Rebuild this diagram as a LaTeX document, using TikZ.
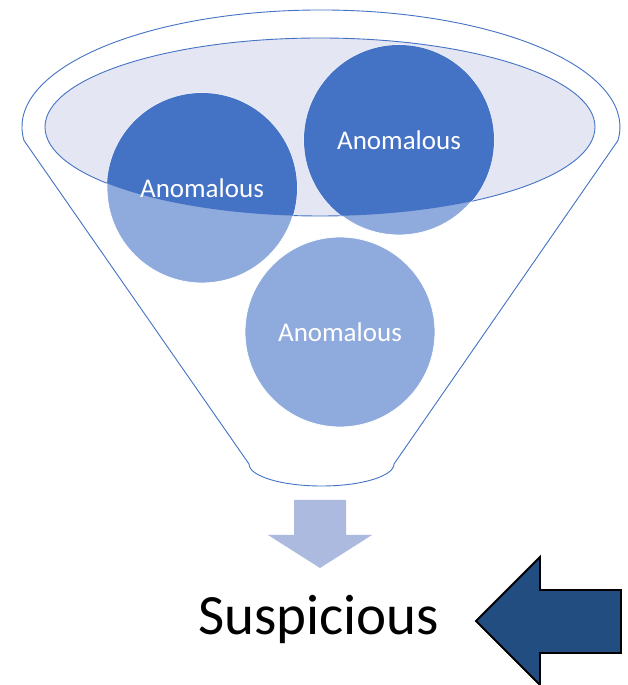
\documentclass[tikz,border=0pt]{standalone}
\usepackage{fontspec}
\setmainfont{Carlito}
\definecolor{dblue}{HTML}{4472C4}
\definecolor{lblue}{HTML}{8FAADC}
\definecolor{lav}{HTML}{E4E7F3}
\definecolor{arrowlight}{HTML}{ADBAE0}
\definecolor{arrowdark}{HTML}{224D80}
\begin{document}
\begin{tikzpicture}[x=1pt,y=1pt,
  funnelline/.style={draw=dblue,line width=0.9pt},
  balltext/.style={text=white,font=\fontsize{27}{31}\selectfont},
  ball/.style={circle,minimum size=190pt,inner sep=0pt,balltext},
]
\useasboundingbox (0,0) rectangle (627,685);
\clip (0,0) rectangle (627,685);
% funnel outline
\draw[funnelline,fill=white] (24,544.5) arc[start angle=186.64,end angle=-6.64,x radius=299,y radius=117]
  -- (394,221) arc[start angle=0,end angle=-180,x radius=72.5,y radius=22] -- cycle;
% inner ellipse
\path[funnelline,fill=lav] (320,558) ellipse[x radius=275,y radius=89];
% circles (light)
\node[ball,fill=lblue,draw=white,line width=0.8pt] (c1) at (202,497) {};
\node[ball,fill=lblue,draw=white,line width=0.8pt] (c2) at (399,545) {};
\node[ball,fill=lblue,draw=white,line width=0.8pt] (c3) at (340,353) {Anomalous};
% dark parts inside the ellipse
\begin{scope}
\clip (320,558) ellipse[x radius=275,y radius=89];
\fill[dblue] (c1.center) circle[radius=95];
\fill[dblue] (c2.center) circle[radius=95];
\end{scope}
\node[balltext] (t1) at (c1.center) {Anomalous};
\node[balltext] (t2) at (c2.center) {Anomalous};
% down arrow
\fill[arrowlight] (294,185) -- (346,185) -- (346,150) -- (372,150) -- (320,117) -- (268,150) -- (294,150) -- cycle;
% result text
\node[anchor=base,font=\fontsize{57}{64}\selectfont,inner sep=0pt] (sus) at (318.5,50) {Suspicious};
% left arrow
\draw[fill=arrowdark,draw=black,line width=1.8pt,line join=miter] (476,64) -- (540,128) -- (540,95) -- (621,95) -- (621,32) -- (540,32) -- (540,0) -- cycle;
\end{tikzpicture}
\end{document}
